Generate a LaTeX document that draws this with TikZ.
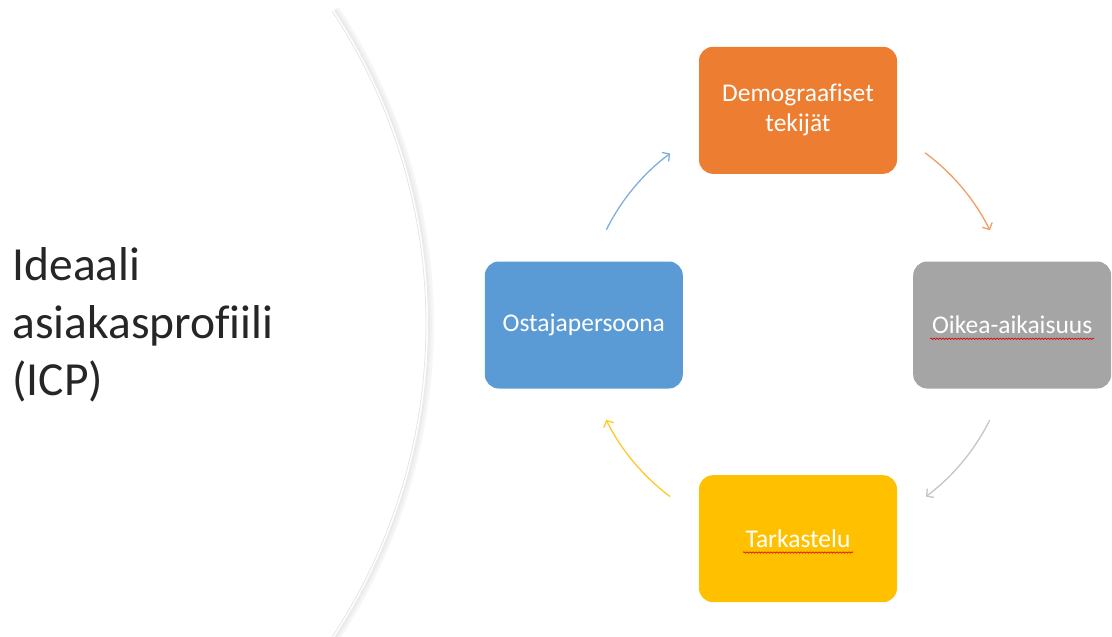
\documentclass[tikz,border=0pt]{standalone}
\usepackage{fontspec}
\setmainfont{Carlito}[Ligatures=NoCommon]
\usetikzlibrary{arrows.meta,
                positioning,
                decorations.pathmorphing}
\definecolor{icporange}{HTML}{ED7D31}
\definecolor{icpgray}{HTML}{A5A5A5}
\definecolor{icpyellow}{HTML}{FFC000}
\definecolor{icpblue}{HTML}{5B9BD5}
\definecolor{icptext}{HTML}{262626}

\begin{document}
\begin{tikzpicture}[
		x=1pt, y=-1pt,
		kortti/.style={rectangle, rounded corners=14pt, minimum width=198pt,
			minimum height=127pt, inner sep=0pt, text=white, align=center,
			font=\fontsize{25.5}{30}\selectfont},
		kierto/.style={line width=1.3pt, -{Straight Barb[length=5pt,width=11pt]}},
		oikoluku/.style={red!85!black, line width=0.6pt, decorate,
			decoration={snake, amplitude=0.7pt, segment length=3pt}}
	]
	\useasboundingbox (0,0) rectangle (1112,637);
	% the large arc with its soft shadow
	\foreach \r/\o in {7/0.03, 5/0.05, 3/0.08}
		\draw[black, opacity=\o, line width=2pt] (-142,324) ++(-33.4:568+\r) arc[start angle=-33.4, end angle=33.4, radius=568+\r];
	\draw[black!10, line width=0.8pt] (-142,324) ++(-33.4:568) arc[start angle=-33.4, end angle=33.4, radius=568];

	\node[anchor=west, align=left, text=icptext, font=\fontsize{47.5}{57.5}\selectfont] (otsikko) at (9,325) {Ideaali\\asiakasprofiili\\(ICP)};

	\coordinate (hub) at (798,325);
	\node[kortti, fill=icporange, above=151pt of hub] (demografiset) {Demograafiset\\tekijät};
	\node[kortti, fill=icpgray, right=115pt of hub] (oikea) {Oikea-aikaisuus};
	\node[kortti, fill=icpyellow, below=150pt of hub] (tarkastelu) {Tarkastelu};
	\node[kortti, fill=icpblue, left=115pt of hub] (ostaja) {Ostajapersoona};

	% spelling marks under two labels
	\draw[oikoluku] ([xshift=-82pt,yshift=-5pt]oikea.base) -- ([xshift=82pt,yshift=-5pt]oikea.base);
	\draw[oikoluku] ([xshift=-55pt,yshift=-5pt]tarkastelu.base) -- ([xshift=55pt,yshift=-5pt]tarkastelu.base);

	% cycle arrows
	\foreach \a/\b/\col in {206.4/233.3/icpblue!80!white, 306.4/333.7/icporange!75!white,
			26.4/53.3/icpgray!65!white, 126.7/153.7/icpyellow!85!white}
		\draw[kierto, \col] ([shift={(\a:214)}]hub) arc[start angle=\a, end angle=\b, radius=214];
\end{tikzpicture}
\end{document}
